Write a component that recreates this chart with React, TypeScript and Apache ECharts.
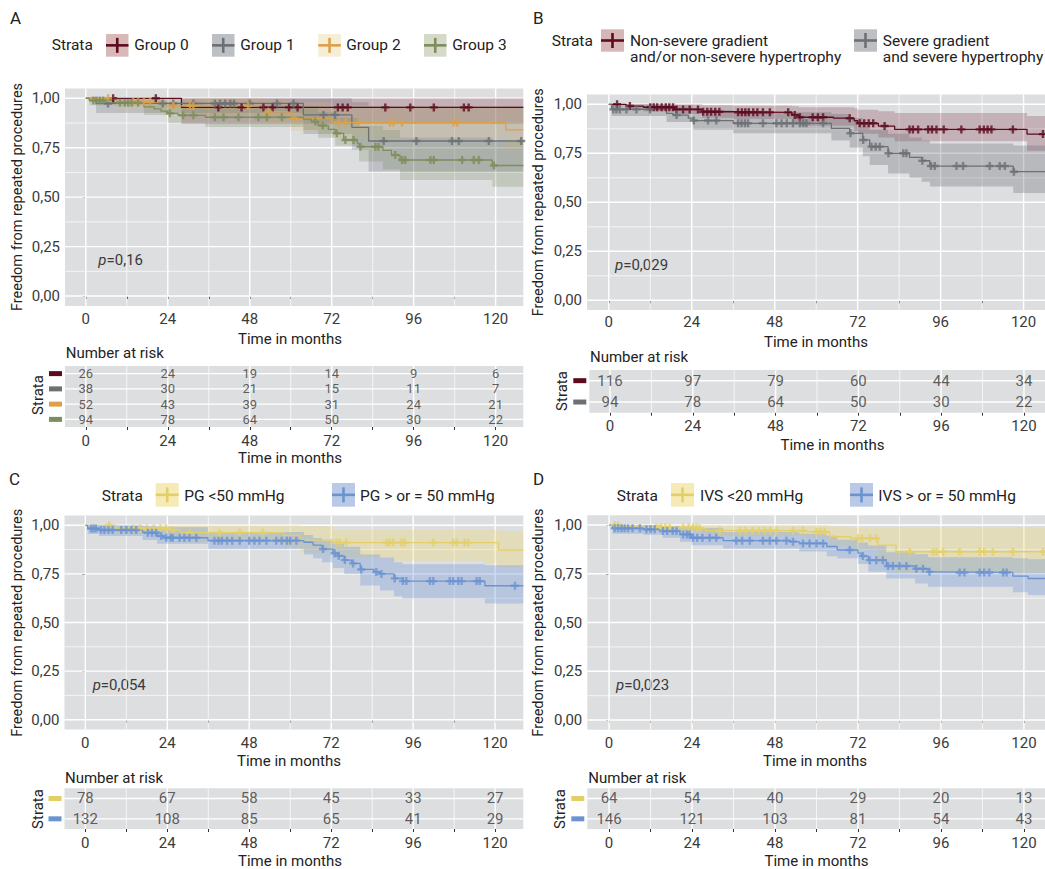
import React, { useEffect, useRef } from 'react';
import * as echarts from 'echarts';

const FONT = 'Roboto, "Noto Sans", sans-serif';
const TXT = '#3A3A3A';
const TITLE = '#222222';
const BG = '#DDDEE0';

const X_TICKS = [0, 12, 24, 36, 48, 60, 72, 84, 96, 108, 120];
const X_LABELS = [0, 24, 48, 72, 96, 120];
const Y_TICKS = [0, 0.25, 0.5, 0.75, 1];
const Y_GRID = [0, 0.125, 0.25, 0.375, 0.5, 0.625, 0.75, 0.875, 1];
const RISK_TIMES = [0, 24, 48, 72, 96, 120];

const MAROON = '#5E0B1F';
const GRAY = '#6C7073';
const ORANGE = '#DCA04A';
const OLIVE = '#7E8C5E';
const YELLOW = '#E3CF68';
const BLUE = '#6B93D1';

// ---------- Panel A ----------
const aNames = ['Group 0', 'Group 1', 'Group 2', 'Group 3'];
const aRisk0 = [26, 24, 19, 14, 9, 6];
const aRisk1 = [38, 30, 21, 15, 11, 7];
const aRisk2 = [52, 43, 39, 31, 24, 21];
const aRisk3 = [94, 78, 64, 50, 30, 22];
const aSteps0 = [[0, 1], [28, 0.954]];
const aCens0 = [8, 20.5, 38.8, 45.6, 52, 54.7, 59.5, 62, 73.8, 75.2, 76.7, 87.7, 95, 101.9, 110.7, 112.1];
const aBand0 = [[0, 1, 1], [28, 0.87, 1]];
const aSteps1 = [[0, 1], [3, 0.974], [63.7, 0.916], [77.9, 0.853], [82.8, 0.784]];
const aCens1 = [6.5, 22.5, 25.6, 31.5, 37.8, 39.3, 40.8, 42.3, 43.4, 48, 56, 60.8, 69.6, 73, 87.2, 96.8, 107.2, 109.2, 118, 127.5];
const aBand1 = [[0, 1, 1], [3, 0.925, 1], [63.7, 0.82, 1], [77.9, 0.74, 0.98], [82.8, 0.63, 0.96]];
const aSteps2 = [[0, 1], [9, 0.981], [22.7, 0.962], [52, 0.932], [60, 0.899], [72, 0.877], [123, 0.84]];
const aCens2 = [6.5, 13.9, 15.3, 17, 18.8, 25.6, 30.5, 31.5, 47.5, 53.5, 61, 74, 76, 79.9, 89.1, 90.1, 92.6, 107.7, 108.7];
const aBand2 = [[0, 1, 1], [9, 0.945, 1], [22.7, 0.915, 1], [52, 0.875, 0.995], [60, 0.835, 0.98], [72, 0.8, 0.965], [123, 0.74, 0.955]];
const aSteps3 = [[0, 1], [1, 0.989], [8, 0.978], [17, 0.957], [20, 0.946], [22, 0.935], [24, 0.924], [27, 0.914], [35, 0.904], [63.7, 0.895], [66, 0.882], [68, 0.862], [71, 0.843], [73, 0.823], [75.5, 0.789], [79.5, 0.772], [80, 0.755], [87, 0.737], [89.5, 0.713], [92, 0.688], [119, 0.66]];
const aCens3 = [2.2, 3.1, 4.1, 5.1, 10, 11.4, 12.4, 13.4, 15.3, 24.6, 28.5, 31.5, 37.8, 40.3, 44.7, 50.5, 53, 57.4, 67.2, 69.4, 73.5, 76, 78.4, 80.4, 84.8, 85.7, 90.6, 92.6, 93.5, 100.9, 101.9, 110.2, 113.6, 115.1, 119.5];
const aBand3 = [[0, 1, 1], [1, 0.965, 1], [17, 0.915, 0.99], [24, 0.875, 0.98], [35, 0.855, 0.965], [63.7, 0.84, 0.96], [68, 0.8, 0.93], [73, 0.76, 0.9], [80, 0.68, 0.86], [87, 0.64, 0.84], [92, 0.587, 0.8], [119, 0.553, 0.78]];

// ---------- Panel B ----------
const bNames = ['Non-severe gradient\nand/or non-severe hypertrophy', 'Severe gradient\nand severe hypertrophy'];
const bRisk0 = [116, 97, 79, 60, 44, 34];
const bRisk1 = [94, 78, 64, 50, 30, 22];
const bSteps0 = [[0, 1], [5, 0.991], [10, 0.985], [19, 0.974], [27, 0.962], [36, 0.959], [53, 0.946], [55, 0.934], [65, 0.929], [71, 0.916], [72, 0.903], [78, 0.889], [82.7, 0.872], [121, 0.848]];
const bCens0 = [2.4, 6.1, 12, 13, 14, 15.3, 16.5, 17.5, 18.6, 19.6, 21.5, 23.4, 25.8, 27.3, 28.5, 29.6, 30.8, 32, 37.4, 38.5, 39.5, 40.5, 41.8, 43, 44.6, 46.6, 51.9, 53.8, 55.3, 59, 60.5, 62, 69.7, 72.6, 73.9, 75.2, 76.5, 79.8, 87, 88, 89.5, 92.4, 93.5, 94.8, 96.9, 102, 107.3, 108.5, 109.6, 110.7, 116.9, 125.6];
const bBand0 = [[0, 1, 1], [5, 0.975, 1], [10, 0.965, 1], [19, 0.95, 1], [27, 0.932, 0.995], [36, 0.925, 0.993], [53, 0.905, 0.99], [55, 0.89, 0.985], [71, 0.865, 0.98], [72, 0.85, 0.972], [78, 0.83, 0.965], [82.7, 0.812, 0.955], [117, 0.812, 0.955], [121, 0.763, 0.94]];
const bSteps1 = [[0, 1], [0.8, 0.974], [16.7, 0.954], [18.6, 0.945], [23, 0.929], [24.4, 0.917], [36, 0.903], [64.4, 0.877], [69.7, 0.852], [73.5, 0.818], [75.5, 0.784], [80.8, 0.75], [87, 0.729], [90.5, 0.712], [92.9, 0.685], [117, 0.656]];
const bCens1 = [1.3, 2.2, 3.2, 5.1, 8, 11.9, 19.6, 24.6, 28.7, 31.1, 37.4, 38.4, 39.4, 40.3, 44.6, 48.5, 50, 51.5, 53.3, 55.3, 56.3, 57.2, 62, 69.9, 73.6, 76, 77.2, 78.4, 80.9, 85.2, 86.1, 90.7, 93.2, 94.3, 100.6, 102.5, 110.2, 113.1, 114.6, 117.2];
const bBand1 = [[0, 1, 1], [0.8, 0.94, 1], [16.7, 0.91, 0.995], [24.4, 0.87, 0.97], [36, 0.852, 0.96], [64.4, 0.815, 0.95], [69.7, 0.78, 0.93], [73.5, 0.735, 0.9], [75.5, 0.69, 0.87], [80.8, 0.647, 0.85], [87, 0.625, 0.83], [90.5, 0.605, 0.815], [92.9, 0.58, 0.8], [117, 0.547, 0.79]];

// ---------- Panel C ----------
const cNames = ['PG <50 mmHg', 'PG > or = 50 mmHg'];
const cRisk0 = [78, 67, 58, 45, 33, 27];
const cRisk1 = [132, 108, 85, 65, 41, 29];
const cSteps0 = [[0, 1], [9, 0.984], [25, 0.975], [28, 0.962], [58, 0.948], [63, 0.925], [72.5, 0.911], [121, 0.873]];
const cCens0 = [7, 14, 16, 18, 20, 22, 23.6, 25.6, 30.5, 39.3, 45.2, 52, 73.5, 74.5, 76.4, 88.2, 89, 90.1, 92.6, 93.5, 101.9, 107.7, 108.7, 111.1, 112.1];
const cBand0 = [[0, 1, 1], [9, 0.955, 1], [25, 0.94, 1], [28, 0.915, 1], [58, 0.885, 1], [63, 0.86, 0.995], [72.5, 0.835, 0.976], [90, 0.818, 0.976], [117, 0.804, 0.976], [121, 0.787, 0.97]];
const cSteps1 = [[0, 1], [0.7, 0.984], [4, 0.976], [16.8, 0.962], [21, 0.945], [23, 0.936], [35.9, 0.921], [64, 0.913], [66.7, 0.898], [69.3, 0.878], [72.5, 0.856], [74, 0.843], [75.8, 0.821], [78, 0.804], [80.5, 0.773], [84.5, 0.76], [86.3, 0.75], [90.4, 0.727], [92.8, 0.713], [117, 0.689]];
const cCens1 = [1.7, 2.4, 3.1, 4.6, 5.6, 6.8, 8, 10.5, 12, 13.5, 14.9, 18.3, 19.5, 20.7, 22.2, 23.7, 25, 25.6, 27.6, 29, 30.5, 32.5, 37.8, 39, 40, 41.5, 43, 45.2, 48, 49.5, 51, 53, 55.9, 57.5, 59, 60, 61.8, 69.6, 73, 74.2, 76, 78.4, 80.8, 85.2, 86.7, 90.6, 93, 94, 100.9, 101.9, 106.7, 107.7, 109.2, 110.2, 114.6, 115.5, 125.8];
const cBand1 = [[0, 1, 1], [0.7, 0.955, 1], [4, 0.945, 1], [16.8, 0.925, 0.995], [21, 0.905, 0.99], [35.9, 0.88, 0.965], [64, 0.85, 0.95], [66.7, 0.83, 0.935], [69.3, 0.81, 0.92], [72.5, 0.78, 0.905], [75.8, 0.75, 0.89], [80.5, 0.69, 0.85], [86.3, 0.665, 0.835], [90.4, 0.635, 0.81], [92.8, 0.624, 0.8], [117, 0.598, 0.795]];

// ---------- Panel D ----------
const dNames = ['IVS <20 mmHg', 'IVS > or = 50 mmHg'];
const dRisk0 = [64, 54, 40, 29, 20, 13];
const dRisk1 = [146, 121, 103, 81, 54, 43];
const dSteps0 = [[0, 1], [3, 0.994], [10, 0.988], [26, 0.983], [28, 0.971], [57, 0.966], [63.8, 0.94], [70, 0.932], [77.8, 0.897], [83, 0.863]];
const dCens0 = [1.6, 2.6, 13.7, 15, 16.3, 17.5, 21.4, 23, 24.3, 25.3, 26.2, 32, 37.8, 39.5, 41.5, 43.3, 45, 46.6, 48.4, 53.2, 56.1, 60, 61.2, 62.4, 72, 73.2, 75.5, 77.3, 87, 93.7, 94.7, 96.6, 101.4, 107.2, 108.5, 111, 116.8, 125.5];
const dBand0 = [[0, 1, 1], [3, 0.98, 1], [10, 0.97, 1], [26, 0.96, 1], [28, 0.945, 1], [57, 0.935, 1], [63.8, 0.895, 0.992], [70, 0.875, 0.988], [77.8, 0.8, 0.985], [83, 0.755, 0.99]];
const dSteps1 = [[0, 1], [1, 0.983], [10, 0.978], [15.5, 0.969], [20.5, 0.952], [23.8, 0.935], [33, 0.92], [52.5, 0.915], [55, 0.906], [63, 0.89], [66, 0.872], [72, 0.856], [73, 0.841], [75, 0.82], [80.2, 0.79], [88.5, 0.776], [92.3, 0.76], [93.2, 0.757], [116.8, 0.738], [121.2, 0.726]];
const dCens1 = [1.6, 2.6, 3.6, 4.5, 5.5, 6.8, 8.9, 10.8, 12, 13.2, 15.6, 16.8, 18.4, 19.5, 21.4, 22.5, 23.3, 24.3, 25.5, 27, 29.1, 31, 36.8, 38.5, 40.7, 44.5, 46.5, 48.4, 51.3, 53.2, 56.1, 58, 60, 61.9, 69.6, 73.4, 75.4, 77.3, 79.2, 80.7, 82.1, 84, 86, 88.9, 90.8, 92.7, 101.4, 102.8, 107.2, 108.5, 110, 114, 115];
const dBand1 = [[0, 1, 1], [1, 0.955, 1], [10, 0.95, 1], [15.5, 0.935, 0.995], [20.5, 0.915, 0.99], [23.8, 0.897, 0.985], [33, 0.88, 0.965], [55, 0.865, 0.955], [63, 0.84, 0.945], [66, 0.83, 0.925], [72, 0.8, 0.91], [75, 0.76, 0.895], [80.2, 0.726, 0.86], [88.5, 0.7, 0.85], [92.3, 0.684, 0.835], [116.8, 0.655, 0.83], [121.2, 0.641, 0.825]];

const PLUS = 'path://M-0.3,-1H0.3V-0.3H1V0.3H0.3V1H-0.3V0.3H-1V-0.3H-0.3Z';

type Curve = { steps: number[][]; cens: number[]; band: number[][]; risk: number[]; color: string; fill: string; key: string; name: string };

const panels = [
  {
    letter: 'A', letterPos: [10, 17.5], pval: 'p', pvalText: '=0,16', pvalPos: [98.3, 260], tableFont: 13, labelMargin: 7,
    plot: { left: 65, top: 88.4, width: 458.3, height: 217.5, xMin: -6.1, xMax: 128.1 },
    table: { left: 65, top: 366, width: 458.3, height: 61, xMin: -6.1, xMax: 128.1 },
    yTitle: [17, 197], xTitle: [290, 339], tXTitle: [290, 457.5], nar: [65.7, 352.5], strataT: [38.3, 395],
    legend: { strata: [51.7, 45], boxes: [106, 212, 318.3, 424], boxY: 34, boxW: 22.5, boxH: 22.7, texts: [134.3, 240.3, 346.3, 452.3], textY: 45 },
    curves: [
      { steps: aSteps0, cens: aCens0, band: aBand0, risk: aRisk0, color: MAROON, fill: 'rgba(110,15,35,0.22)', key: '#D9B8B8', name: aNames[0] },
      { steps: aSteps1, cens: aCens1, band: aBand1, risk: aRisk1, color: GRAY, fill: 'rgba(95,100,110,0.25)', key: '#BCBFC3', name: aNames[1] },
      { steps: aSteps2, cens: aCens2, band: aBand2, risk: aRisk2, color: ORANGE, fill: 'rgba(225,190,110,0.22)', key: '#F6EDD7', name: aNames[2] },
      { steps: aSteps3, cens: aCens3, band: aBand3, risk: aRisk3, color: OLIVE, fill: 'rgba(120,135,90,0.25)', key: '#D5D9C7', name: aNames[3] },
    ] as Curve[],
  },
  {
    letter: 'B', letterPos: [533, 18], pval: 'p', pvalText: '=0,029', pvalPos: [615, 264.7], tableFont: 15, labelMargin: 5,
    plot: { left: 587, top: 94.5, width: 458, height: 215.6, xMin: -6.3, xMax: 126.2 },
    table: { left: 589.3, top: 370, width: 455.7, height: 42.7, xMin: -6.0, xMax: 126.1 },
    yTitle: [538, 202.3], xTitle: [816, 342], tXTitle: [832.5, 445], nar: [590, 356.5], strataT: [561.7, 391],
    legend: { strata: [551.7, 41], boxes: [601, 854], boxY: 29.3, boxW: 23, boxH: 22.4, texts: [630, 882.7], textY: 48.5 },
    curves: [
      { steps: bSteps0, cens: bCens0, band: bBand0, risk: bRisk0, color: MAROON, fill: 'rgba(110,15,35,0.22)', key: '#D7B6B7', name: bNames[0] },
      { steps: bSteps1, cens: bCens1, band: bBand1, risk: bRisk1, color: GRAY, fill: 'rgba(95,100,110,0.3)', key: '#BDBFC2', name: bNames[1] },
    ] as Curve[],
  },
  {
    letter: 'C', letterPos: [9, 479], pval: 'p', pvalText: '=0,054', pvalPos: [92.7, 684.8], tableFont: 15, labelMargin: 7,
    plot: { left: 64.5, top: 515.6, width: 458.8, height: 213.8, xMin: -6.1, xMax: 128.25 },
    table: { left: 64.5, top: 788.3, width: 458.8, height: 40.7, xMin: -6.1, xMax: 128.25 },
    yTitle: [17, 622.8], xTitle: [289, 761], tXTitle: [290, 860.5], nar: [65, 777.5], strataT: [37.7, 809],
    legend: { strata: [101.7, 495.7], boxes: [155.7, 332], boxY: 483, boxW: 23, boxH: 23.7, texts: [184.3, 360], textY: 495.7 },
    curves: [
      { steps: cSteps0, cens: cCens0, band: cBand0, risk: cRisk0, color: YELLOW, fill: 'rgba(240,215,100,0.3)', key: '#F6EAB6', name: cNames[0] },
      { steps: cSteps1, cens: cCens1, band: cBand1, risk: cRisk1, color: BLUE, fill: 'rgba(95,140,215,0.3)', key: '#B9C9E6', name: cNames[1] },
    ] as Curve[],
  },
  {
    letter: 'D', letterPos: [533, 479], pval: 'p', pvalText: '=0,023', pvalPos: [616, 684.5], tableFont: 15, labelMargin: 7,
    plot: { left: 587.3, top: 515.3, width: 457.7, height: 214.5, xMin: -6.3, xMax: 126.1 },
    table: { left: 587.3, top: 788.3, width: 457.7, height: 40.7, xMin: -6.3, xMax: 126.1 },
    yTitle: [538, 622.6], xTitle: [815, 761], tXTitle: [816.5, 860.5], nar: [588.3, 777.5], strataT: [560, 809],
    legend: { strata: [616.7, 495.7], boxes: [671, 850], boxY: 483, boxW: 23, boxH: 23.7, texts: [700, 878.3], textY: 495.7 },
    curves: [
      { steps: dSteps0, cens: dCens0, band: dBand0, risk: dRisk0, color: YELLOW, fill: 'rgba(240,215,100,0.3)', key: '#F6EAB6', name: dNames[0] },
      { steps: dSteps1, cens: dCens1, band: dBand1, risk: dRisk1, color: BLUE, fill: 'rgba(95,140,215,0.3)', key: '#B9C9E6', name: dNames[1] },
    ] as Curve[],
  },
];

function survAt(steps: number[][], t: number) {
  let s = steps[0][1];
  for (const [tt, v] of steps) if (tt <= t) s = v;
  return s;
}

function text(x: number, y: number, str: string, o: any = {}) {
  return {
    type: 'text', x, y, rotation: o.rotation || 0, silent: true,
    style: {
      text: str, fill: o.fill || TITLE, fontSize: o.size || 15, fontFamily: FONT,
      align: o.align || 'left', verticalAlign: 'middle', textAlign: o.align || 'left', textVerticalAlign: 'middle',
      lineHeight: o.lineHeight || 13, rich: o.rich,
    },
  };
}

function buildOption() {
  const grid: any[] = [];
  const xAxis: any[] = [];
  const yAxis: any[] = [];
  const series: any[] = [];
  const elements: any[] = [];

  const axisCommon = (min: number, max: number, gi: number) => ({
    type: 'value', gridIndex: gi, min, max,
    axisLine: { show: false }, splitLine: { show: false },
  });

  const gridSeries = (gi: number, xMin: number, xMax: number, yMin: number, yMax: number, yVals: number[], yMajor: (v: number) => boolean) => {
    series.push({
      type: 'custom', xAxisIndex: gi, yAxisIndex: gi, z: 1, silent: true,
      data: X_TICKS.map((v) => [v, yMin]),
      renderItem: (_p: any, api: any) => {
        const v = api.value(0);
        const a = api.coord([v, yMin]);
        const b = api.coord([v, yMax]);
        return { type: 'line', shape: { x1: a[0], y1: a[1], x2: b[0], y2: b[1] }, style: { stroke: '#FFFFFF', lineWidth: v % 24 === 0 ? 1.4 : 0.7 } };
      },
    });
    series.push({
      type: 'custom', xAxisIndex: gi, yAxisIndex: gi, z: 1, silent: true,
      data: yVals.map((v) => [xMin, v]),
      renderItem: (_p: any, api: any) => {
        const v = api.value(1);
        const a = api.coord([xMin, v]);
        const b = api.coord([xMax, v]);
        return { type: 'line', shape: { x1: a[0], y1: a[1], x2: b[0], y2: b[1] }, style: { stroke: '#FFFFFF', lineWidth: yMajor(v) ? 1.4 : 0.7 } };
      },
    });
  };

  panels.forEach((p, k) => {
    const gi = k * 2;
    const ti = k * 2 + 1;
    const n = p.curves.length;
    const { plot, table } = p;

    grid.push({ left: plot.left, top: plot.top, width: plot.width, height: plot.height, show: true, backgroundColor: BG, borderWidth: 0 });
    grid.push({ left: table.left, top: table.top, width: table.width, height: table.height, show: true, backgroundColor: BG, borderWidth: 0 });

    xAxis.push({
      ...axisCommon(plot.xMin, plot.xMax, gi),
      axisTick: { show: true, customValues: X_TICKS, length: 3, lineStyle: { color: '#333', width: 1 } },
      axisLabel: { customValues: X_LABELS, margin: p.labelMargin, fontSize: 15, lineHeight: 13, color: TXT, fontFamily: FONT },
    });
    xAxis.push({
      ...axisCommon(table.xMin, table.xMax, ti),
      axisTick: { show: true, customValues: X_TICKS, length: 3, lineStyle: { color: '#333', width: 1 } },
      axisLabel: { customValues: X_LABELS, margin: 7, fontSize: 15, lineHeight: 13, color: TXT, fontFamily: FONT },
    });
    yAxis.push({
      ...axisCommon(-0.05, 1.05, gi),
      axisTick: { show: true, customValues: Y_TICKS, length: 3, lineStyle: { color: '#333', width: 1 } },
      axisLabel: { customValues: Y_TICKS, margin: 5, fontSize: 15, lineHeight: 13, color: TXT, fontFamily: FONT, formatter: (v: number) => v.toFixed(2).replace('.', ',') },
    });
    const rowVals = p.curves.map((_c, i) => i + 1);
    const rich: any = {};
    p.curves.forEach((c, i) => { rich['c' + i] = { width: 13, height: 5, lineHeight: 5, fontSize: 5, backgroundColor: c.color }; });
    yAxis.push({
      ...axisCommon(0.5, n + 0.5, ti),
      axisTick: { show: false },
      axisLabel: { customValues: rowVals, margin: 3, formatter: (v: number) => `{c${n - Math.round(v)}| }`, rich },
    });

    gridSeries(gi, plot.xMin, plot.xMax, -0.05, 1.05, Y_GRID, (v) => Math.abs(v * 4 - Math.round(v * 4)) < 1e-6);
    gridSeries(ti, table.xMin, table.xMax, 0.5, n + 0.5, rowVals, () => true);

    p.curves.forEach((c, i) => {
      const band = c.band;
      const xEnd = plot.xMax;
      series.push({
        type: 'custom', xAxisIndex: gi, yAxisIndex: gi, z: 2, silent: true, clip: true,
        data: [[0, 1]],
        renderItem: (_p: any, api: any) => {
          const up: number[][] = [];
          const lo: number[][] = [];
          band.forEach((r, j) => {
            const x1 = j + 1 < band.length ? band[j + 1][0] : xEnd;
            up.push(api.coord([r[0], r[2]]), api.coord([x1, r[2]]));
            lo.push(api.coord([r[0], r[1]]), api.coord([x1, r[1]]));
          });
          return { type: 'polygon', shape: { points: up.concat(lo.reverse()) }, style: { fill: c.fill } };
        },
      });
      const last = c.steps[c.steps.length - 1][1];
      series.push({
        type: 'line', xAxisIndex: gi, yAxisIndex: gi, z: 3 + i, silent: true, step: 'end',
        showSymbol: false, symbol: 'none', clip: true,
        data: [...c.steps, [xEnd, last]],
        lineStyle: { color: c.color, width: 1.3 },
      });
      series.push({
        type: 'scatter', xAxisIndex: gi, yAxisIndex: gi, z: 8, silent: true, clip: true,
        symbol: PLUS, symbolSize: 8,
        data: c.cens.map((t) => [t, survAt(c.steps, t)]),
        itemStyle: { color: c.color },
      });
      series.push({
        type: 'scatter', xAxisIndex: ti, yAxisIndex: ti, z: 8, silent: true, symbolSize: 0,
        data: RISK_TIMES.map((t, j) => [t, n - i, c.risk[j]]),
        label: { show: true, position: 'inside', formatter: (q: any) => String(q.value[2]), fontSize: p.tableFont, lineHeight: p.tableFont - 1, color: TXT, fontFamily: FONT },
      });

      // legend key
      const L = p.legend;
      const bx = L.boxes[i];
      const cx = bx + L.boxW / 2;
      const cy = L.boxY + L.boxH / 2;
      elements.push({ type: 'rect', silent: true, shape: { x: bx, y: L.boxY, width: L.boxW, height: L.boxH }, style: { fill: c.key } });
      elements.push({ type: 'line', silent: true, shape: { x1: bx, y1: cy, x2: bx + L.boxW, y2: cy }, style: { stroke: c.color, lineWidth: 2.6 } });
      elements.push({ type: 'line', silent: true, shape: { x1: cx, y1: cy - 7.5, x2: cx, y2: cy + 7.5 }, style: { stroke: c.color, lineWidth: 2.6 } });
      elements.push(text(L.texts[i], L.textY, c.name, { size: 15.5, lineHeight: 16 }));
    });

    elements.push(text(p.legend.strata[0], p.legend.strata[1], 'Strata', { size: 15.5 }));
    elements.push(text(p.letterPos[0], p.letterPos[1], p.letter, { size: 17 }));
    elements.push(text(p.yTitle[0], p.yTitle[1], 'Freedom from repeated procedures', { rotation: Math.PI / 2, align: 'center', size: 14.5 }));
    elements.push(text(p.xTitle[0], p.xTitle[1], 'Time in months', { align: 'center' }));
    elements.push(text(p.tXTitle[0], p.tXTitle[1], 'Time in months', { align: 'center' }));
    elements.push(text(p.nar[0], p.nar[1], 'Number at risk'));
    elements.push(text(p.strataT[0], p.strataT[1], 'Strata', { rotation: Math.PI / 2, align: 'center' }));
    elements.push(text(p.pvalPos[0], p.pvalPos[1], `{i|${p.pval}}${p.pvalText}`, {
      fill: TXT,
      rich: { i: { fontStyle: 'italic', fontSize: 15, fontFamily: FONT, fill: TXT, lineHeight: 13 } },
    }));
  });

  return {
    animation: false,
    backgroundColor: '#FFFFFF',
    textStyle: { fontFamily: FONT },
    grid, xAxis, yAxis, series,
    graphic: { elements },
  };
}

export default function App() {
  const ref = useRef<HTMLDivElement>(null);
  useEffect(() => {
    if (!ref.current) return;
    const chart = echarts.init(ref.current, null, { renderer: 'svg' });
    chart.setOption(buildOption() as any);
    return () => chart.dispose();
  }, []);
  return <div ref={ref} style={{ position: 'absolute', left: 0, top: 0, width: 1045, height: 869 }} />;
}
